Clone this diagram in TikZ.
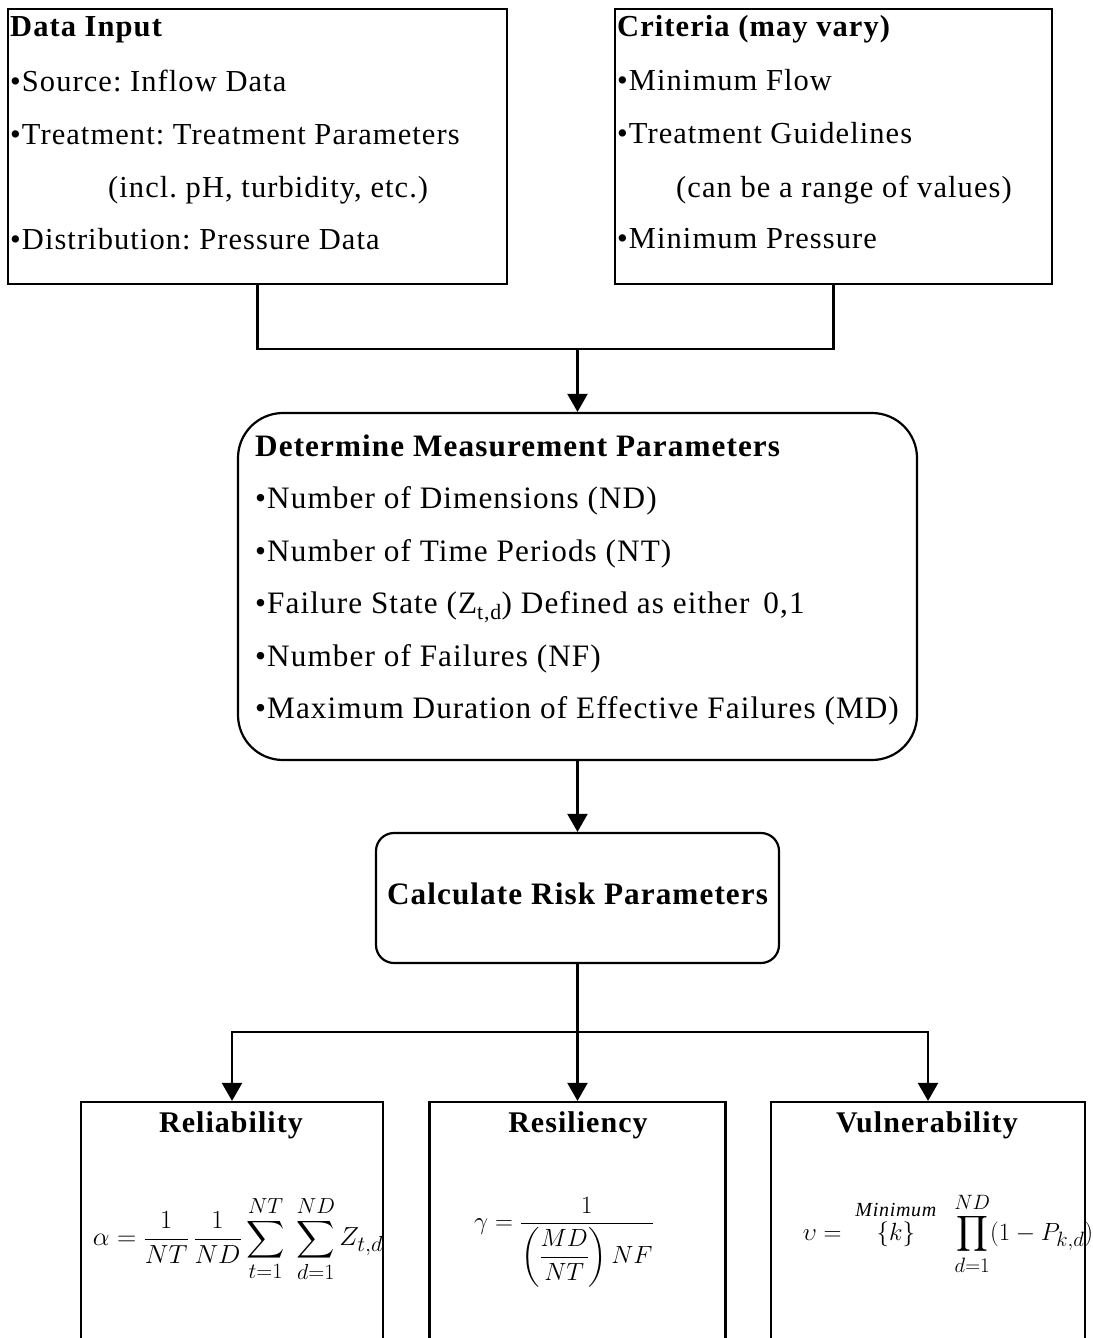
\documentclass[tikz,border=0pt]{standalone}
\usepackage{amsmath}
\usepackage{graphicx}
\usepackage{fontspec}
\setmainfont{Liberation Serif}[LetterSpace=3.5]
\usetikzlibrary{arrows.meta}
\newcommand\topfont{\fontsize{30.5}{36}\selectfont\frenchspacing}
\newcommand\midfont{\fontsize{31.2}{36}\selectfont\frenchspacing}
\newcommand\botfont{\fontsize{30}{36}\selectfont\frenchspacing}
\tikzset{
  box/.style={draw, line width=2.2pt, rectangle, inner sep=0pt},
  txt/.style={anchor=base west, inner sep=0pt, font=\topfont},
  ttl/.style={anchor=base west, inner sep=0pt, font=\topfont\bfseries},
  mtxt/.style={anchor=base west, inner sep=0pt, font=\midfont},
  mttl/.style={anchor=base west, inner sep=0pt, font=\midfont\bfseries},
  cttl/.style={anchor=base, inner sep=0pt, font=\botfont\bfseries},
  frm/.style={anchor=center, inner sep=0pt, font=\botfont},
  ln/.style={line width=2.2pt, line join=miter},
  arr/.style={ln, -{Triangle[length=18pt,width=20pt]}}
}
\begin{document}
\begin{tikzpicture}[x=1pt,y=-1pt]
\useasboundingbox (0,0) rectangle (1092,1338);
\clip (0,0) rectangle (1092,1338);
% boxes
\node[box, minimum width=499pt, minimum height=275pt] (datain) at (257.5,146.5) {};
\node[box, minimum width=437pt, minimum height=275pt] (crit) at (833.5,146.5) {};
\node[box, rounded corners=45pt, minimum width=679pt, minimum height=347pt] (det) at (577.5,586.5) {};
\node[box, rounded corners=18pt, minimum width=403pt, minimum height=130pt] (calc) at (577.5,898) {};
\node[box, minimum width=302pt, minimum height=300pt] (rel) at (232,1252) {};
\node[box, minimum width=296pt, minimum height=300pt] (res) at (577.5,1252) {};
\node[box, minimum width=314pt, minimum height=300pt] (vul) at (928,1252) {};
% Data Input text
\node[ttl] (t1) at (10,37) {Data Input};
\node[txt] (t2) at (10,91) {•Source: Inflow Data};
\node[txt] (t3) at (10,144) {•Treatment: Treatment Parameters};
\node[txt] (t4) at (108,197) {(incl. pH, turbidity, etc.)};
\node[txt] (t5) at (10,249) {•Distribution: Pressure Data};
% Criteria text
\node[ttl] (c1) at (617,37) {Criteria (may vary)};
\node[txt] (c2) at (617,90) {•Minimum Flow};
\node[txt] (c3) at (617,143) {•Treatment Guidelines};
\node[txt] (c4) at (676,197) {(can be a range of values)};
\node[txt] (c5) at (617,248) {•Minimum Pressure};
% Determine text
\node[mttl] (d1) at (255,456) {Determine Measurement Parameters};
\node[mtxt] (d2) at (255,508) {•Number of Dimensions (ND)};
\node[mtxt] (d3) at (255,561) {•Number of Time Periods (NT)};
\node[mtxt] (d4) at (255,613) {•Failure State (Z\textsubscript{t,d}) Defined as either\hspace{0.45em}0,1};
\node[mtxt] (d5) at (255,666) {•Number of Failures (NF)};
\node[mtxt] (d6) at (255,718) {•Maximum Duration of Effective Failures (MD)};
% Calculate
\node[cttl, font=\midfont\bfseries] (k1) at (577.5,904) {Calculate Risk Parameters};
% bottom titles
\node[cttl] (r1) at (231,1132) {Reliability};
\node[cttl] (s1) at (578,1132) {Resiliency};
\node[cttl] (v1) at (927,1132) {Vulnerability};
% formulas
\node[frm] (r2) at (238,1239) {\scalebox{1.07}[1.05]{$\displaystyle \alpha = \frac{1}{NT}\,\frac{1}{ND}\sum_{t=1}^{NT}\;\sum_{d=1}^{ND} Z_{t,d}$}};
\node[frm] (s2) at (564,1242) {$\displaystyle \gamma = \frac{1}{\left(\dfrac{MD}{NT}\right)NF}$};
\node[frm] (v2) at (948,1234) {$\displaystyle \upsilon = \;\mathop{\{k\}}\limits^{\textit{\fontsize{20}{20}\selectfont Minimum}}\;\; \prod_{d=1}^{ND}(1-P_{k,d})$};
% connectors
\coordinate (j1) at (577.5,349);
\draw[ln] (datain.south) |- (j1) -| (crit.south);
\draw[arr] (j1) -- (det.north);
\draw[arr] (det.south) -- (calc.north);
\coordinate (j2) at (577.5,1032);
\draw[arr] (j2) -| (rel.north);
\draw[arr] (j2) -| (vul.north);
\draw[arr] (calc.south) -- (res.north);
\end{tikzpicture}
\end{document}
